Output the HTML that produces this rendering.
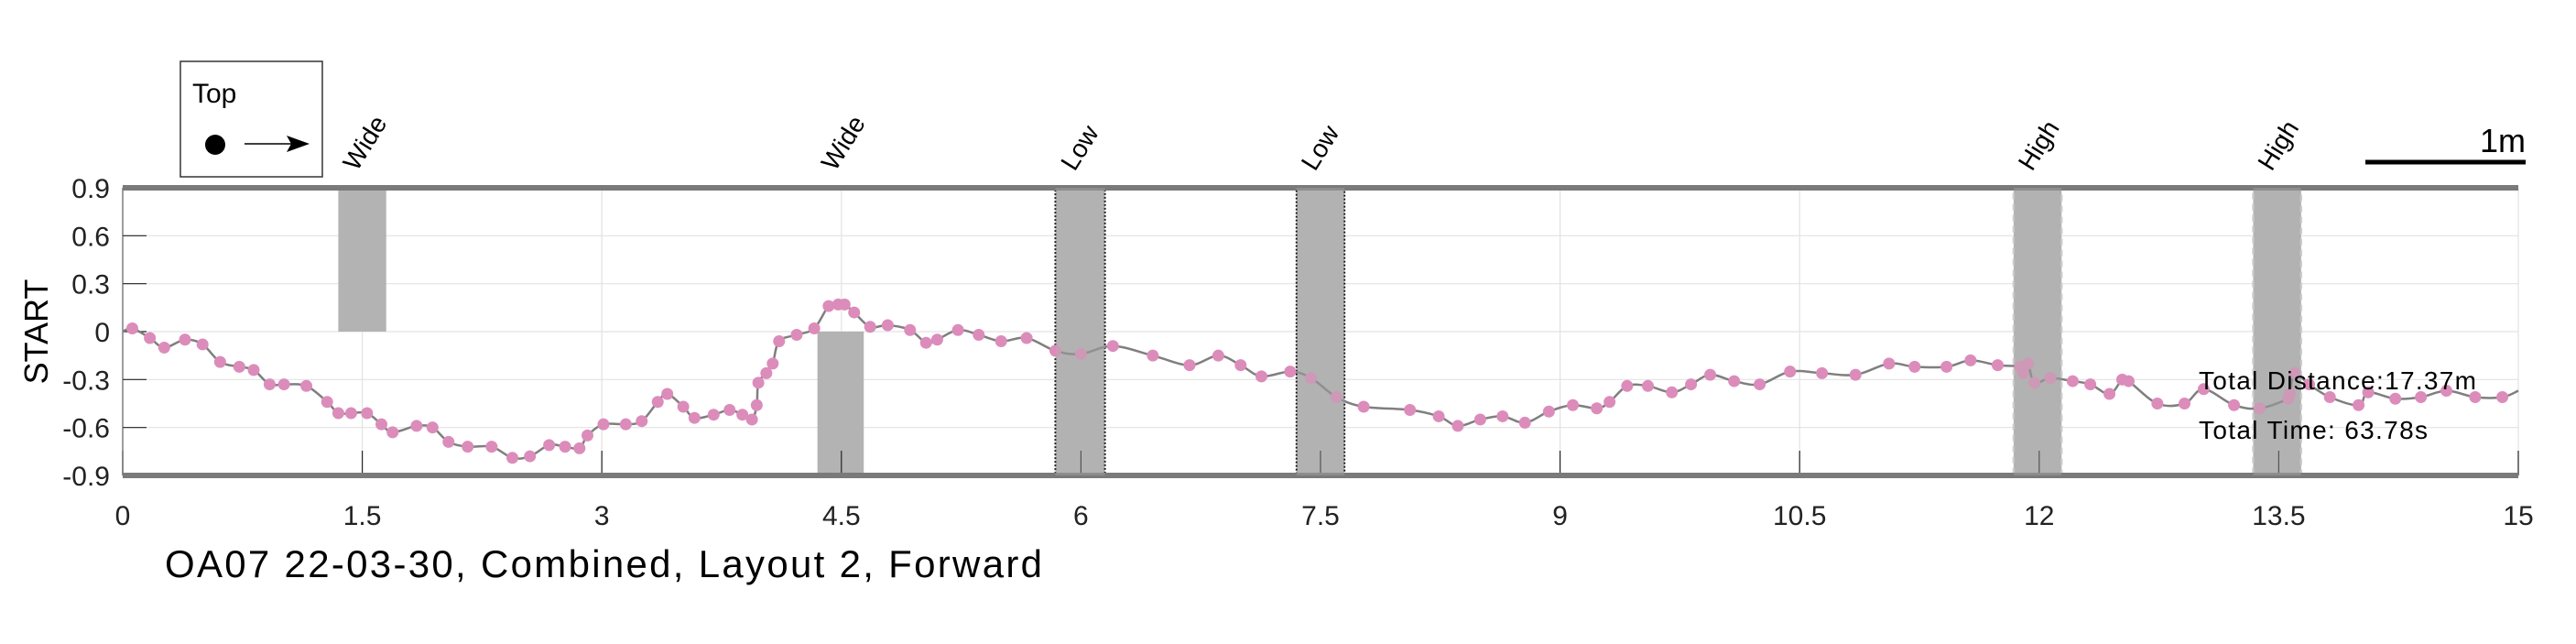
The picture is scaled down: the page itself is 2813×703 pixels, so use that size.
<!DOCTYPE html>
<html><head><meta charset="utf-8"><style>
html,body{margin:0;padding:0;background:#fff;}
svg{display:block;font-family:"Liberation Sans",sans-serif;}
</style></head><body>
<svg id="chart" width="2813" height="703" viewBox="0 0 2813 703" xmlns="http://www.w3.org/2000/svg">
<g id="grid"></g>
<g id="regions"></g>
<g id="axes"></g>
<g id="series"></g>
<g id="labels"></g>
<g>
  <rect x="197" y="67" width="155" height="126" fill="#fff" stroke="#333" stroke-width="1.5"/>
  <text x="210" y="112" font-size="30" fill="#000">Top</text>
  <circle cx="235" cy="158" r="11" fill="#000"/>
  <line x1="267" y1="157" x2="326" y2="157" stroke="#000" stroke-width="1.5"/>
  <polygon points="338,157 313,148 318,157 313,166" fill="#000"/>
</g>
<g>
  <line x1="2583" y1="177" x2="2758" y2="177" stroke="#000" stroke-width="5"/>
  <text x="2758" y="166" font-size="36" text-anchor="end" fill="#000">1m</text>
</g>
<text x="2401" y="425" font-size="28" fill="#000" textLength="303">Total Distance:17.37m</text>
<text x="2401" y="479" font-size="28" fill="#000" textLength="250">Total Time: 63.78s</text>
<text x="180" y="630" font-size="42" fill="#000" textLength="958">OA07 22-03-30, Combined, Layout 2, Forward</text>
<text transform="translate(52,362) rotate(-90)" font-size="36" text-anchor="middle" fill="#000">START</text>
</svg>
<script>
const xTicks = [0,1.5,3,4.5,6,7.5,9,10.5,12,13.5,15];
const xTickLabels = ["0","1.5","3","4.5","6","7.5","9","10.5","12","13.5","15"];
const yTicks = [0.9,0.6,0.3,0,-0.3,-0.6,-0.9];
const yTickLabels = ["0.9","0.6","0.3","0","-0.3","-0.6","-0.9"];
const xs = [0,0.06,0.17,0.26,0.39,0.50,0.61,0.73,0.82,0.92,1.01,1.15,1.28,1.35,1.43,1.53,1.62,1.69,1.84,1.94,2.04,2.16,2.31,2.44,2.55,2.67,2.77,2.86,2.91,3.01,3.15,3.25,3.35,3.41,3.51,3.58,3.70,3.80,3.88,3.94,3.97,3.98,4.03,4.07,4.11,4.22,4.33,4.42,4.48,4.52,4.58,4.68,4.79,4.93,5.03,5.10,5.23,5.36,5.50,5.66,5.84,6.00,6.20,6.45,6.68,6.86,7.00,7.13,7.31,7.44,7.60,7.77,8.06,8.24,8.36,8.50,8.64,8.78,8.93,9.08,9.23,9.31,9.42,9.55,9.70,9.82,9.94,10.09,10.25,10.44,10.64,10.85,11.06,11.22,11.42,11.57,11.74,11.88,11.90,11.93,11.97,12.07,12.21,12.32,12.44,12.52,12.56,12.74,12.91,13.03,13.22,13.38,13.56,13.57,13.60,13.69,13.82,14.00,14.06,14.23,14.39,14.55,14.73,14.90];
const ys = [0.00,0.02,-0.04,-0.10,-0.05,-0.08,-0.19,-0.22,-0.24,-0.33,-0.33,-0.34,-0.44,-0.51,-0.51,-0.51,-0.58,-0.63,-0.59,-0.60,-0.69,-0.72,-0.72,-0.79,-0.78,-0.71,-0.72,-0.73,-0.65,-0.58,-0.58,-0.56,-0.44,-0.39,-0.47,-0.54,-0.52,-0.49,-0.52,-0.55,-0.46,-0.32,-0.26,-0.20,-0.06,-0.02,0.02,0.16,0.17,0.17,0.12,0.03,0.04,0.01,-0.07,-0.05,0.01,-0.02,-0.06,-0.04,-0.12,-0.14,-0.09,-0.15,-0.21,-0.15,-0.21,-0.28,-0.25,-0.29,-0.41,-0.47,-0.49,-0.53,-0.59,-0.55,-0.53,-0.57,-0.50,-0.46,-0.48,-0.44,-0.34,-0.34,-0.38,-0.33,-0.27,-0.31,-0.33,-0.25,-0.26,-0.27,-0.20,-0.22,-0.22,-0.18,-0.21,-0.22,-0.26,-0.20,-0.32,-0.29,-0.31,-0.33,-0.39,-0.30,-0.31,-0.45,-0.45,-0.36,-0.46,-0.48,-0.42,-0.39,-0.26,-0.33,-0.41,-0.46,-0.38,-0.42,-0.41,-0.37,-0.41,-0.41];
const endX = 15, endY = -0.37;
const regionNames = ["Wide","Wide","Low","Low","High","High"];
const regionStart = [1.35,4.35,5.84,7.35,11.84,13.34];
const regionEnd = [1.65,4.64,6.15,7.65,12.14,13.64];
const regionLow = [0,-0.9,-0.9,-0.9,-0.9,-0.9];
const regionHigh = [0.9,0,0.9,0.9,0.9,0.9];

const NS = "http://www.w3.org/2000/svg";
const X0 = 134, X1 = 2750, YT = 205, YB = 519;
const sx = v => X0 + (v - 0) / 15 * (X1 - X0);
const sy = v => YB - (v + 0.9) / 1.8 * (YB - YT);
function mk(tag, attrs, parent) {
  const e = document.createElementNS(NS, tag);
  for (const k in attrs) e.setAttribute(k, attrs[k]);
  parent.appendChild(e);
  return e;
}
const grid = document.getElementById('grid');
const axes = document.getElementById('axes');
const regions = document.getElementById('regions');
const series = document.getElementById('series');
const labels = document.getElementById('labels');

xTicks.forEach((t, i) => {
  const g = mk('line', {x1: sx(t), x2: sx(t), y1: YT, y2: YB, stroke: '#e2e2e2', 'stroke-width': 1.2}, grid);
  
  
  const tk = mk('line', {x1: sx(t), x2: sx(t), y1: YB - 27, y2: YB, stroke: '#222', 'stroke-width': 1.2}, axes);
  
  
  const tl = mk('text', {x: sx(t), y: 573, 'font-size': 30, 'text-anchor': 'middle', fill: '#222'}, axes);
  tl.textContent = xTickLabels[i];
  
  
});
yTicks.forEach((t, i) => {
  const g = mk('line', {x1: X0, x2: X1, y1: sy(t), y2: sy(t), stroke: '#e2e2e2', 'stroke-width': 1.2}, grid);
  
  
  const tk = mk('line', {x1: X0, x2: X0 + 26, y1: sy(t), y2: sy(t), stroke: '#222', 'stroke-width': 1.2}, axes);
  
  
  const tl = mk('text', {x: 120, y: sy(t) + 11, 'font-size': 30, 'text-anchor': 'end', fill: '#222'}, axes);
  tl.textContent = yTickLabels[i];
  
  
});
const la = mk('line', {x1: X0, x2: X0, y1: YT, y2: YB, stroke: '#444', 'stroke-width': 1}, axes);


[YT, YB].forEach(y => {
  const b = mk('line', {x1: X0, x2: X1, y1: y, y2: y, stroke: '#7a7a7a', 'stroke-width': 6}, axes);
  
  
});

regionNames.forEach((n, i) => {
  const x1 = sx(regionStart[i]), x2 = sx(regionEnd[i]);
  const y1 = sy(regionHigh[i]), y2 = sy(regionLow[i]);
  const attrs = {x: x1, y: y1, width: x2 - x1, height: y2 - y1, fill: '#b3b3b3'};
  if (n === 'Low') { attrs.stroke = '#000'; attrs['stroke-width'] = 2; attrs['stroke-dasharray'] = '2,2'; }
  if (n === 'High') { attrs.stroke = '#d0d0d0'; attrs['stroke-width'] = 2.5; attrs['stroke-dasharray'] = '7,5'; }
  const r = mk('rect', attrs, regions);
  
  
  const cx = (x1 + x2) / 2;
  const t = mk('text', {x: 0, y: 0, 'font-size': 28, fill: '#000', transform: 'translate(' + (cx - 6) + ',188) rotate(-58)'}, labels);
  t.textContent = n;
  
  
});

// smooth line (Catmull-Rom)
const px = xs.map(sx).concat([sx(endX)]);
const py = ys.map(sy).concat([sy(endY)]);
let d = 'M' + px[0] + ',' + py[0];
for (let i = 0; i < px.length - 1; i++) {
  const p0x = px[Math.max(0, i - 1)], p0y = py[Math.max(0, i - 1)];
  const p3x = px[Math.min(px.length - 1, i + 2)], p3y = py[Math.min(px.length - 1, i + 2)];
  const c1x = px[i] + (px[i + 1] - p0x) / 6, c1y = py[i] + (py[i + 1] - p0y) / 6;
  const c2x = px[i + 1] - (p3x - px[i]) / 6, c2y = py[i + 1] - (p3y - py[i]) / 6;
  d += ' C' + c1x + ',' + c1y + ' ' + c2x + ',' + c2y + ' ' + px[i + 1] + ',' + py[i + 1];
}
const path = mk('path', {d: d, fill: 'none', stroke: '#7f7f7f', 'stroke-width': 2.5}, series);


xs.forEach((v, i) => {
  if (i === 0) return;
  const c = mk('circle', {cx: sx(v), cy: sy(ys[i]), r: 6.5, fill: '#dc8cba'}, series);
  
  
});
// overlay shaded regions partially over points like in reference (semi-transparent tint)
regionNames.forEach((n, i) => {
  if (n === 'Wide') return;
  const x1 = sx(regionStart[i]), x2 = sx(regionEnd[i]);
  const r = mk('rect', {x: x1, y: YT, width: x2 - x1, height: YB - YT, fill: '#b3b3b3', 'fill-opacity': 0.35}, series);
  
  
});
</script>
</body></html>
